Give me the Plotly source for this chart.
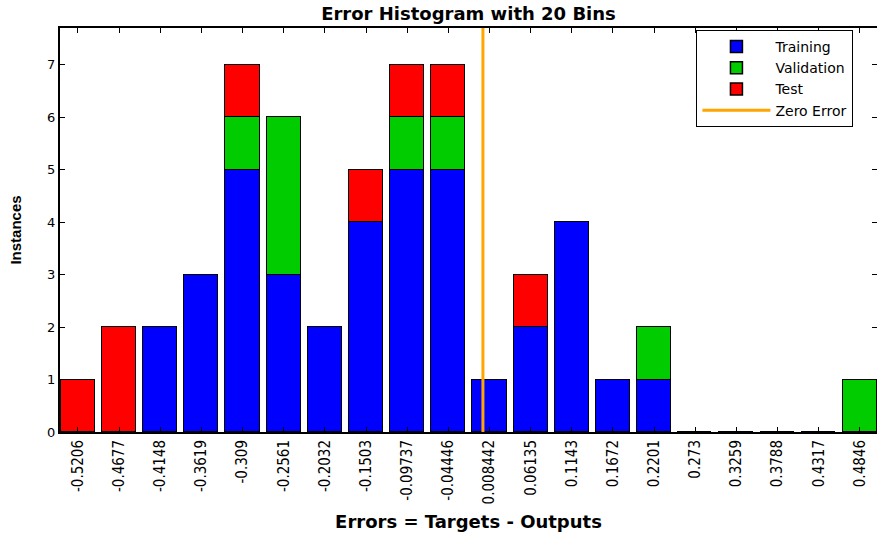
import plotly.graph_objects as go

bin_centers = [-0.5206, -0.4677, -0.4148, -0.3619, -0.309, -0.2561, -0.2032, -0.1503,
               -0.09737, -0.04446, 0.008442, 0.06135, 0.1143, 0.1672, 0.2201,
               0.273, 0.3259, 0.3788, 0.4317, 0.4846]
tick_labels = ["-0.5206", "-0.4677", "-0.4148", "-0.3619", "-0.309", "-0.2561", "-0.2032",
               "-0.1503", "-0.09737", "-0.04446", "0.008442", "0.06135", "0.1143", "0.1672",
               "0.2201", "0.273", "0.3259", "0.3788", "0.4317", "0.4846"]
training = [0, 0, 2, 3, 5, 3, 2, 4, 5, 5, 1, 2, 4, 1, 1, 0, 0, 0, 0, 0]
validation = [0, 0, 0, 0, 1, 3, 0, 0, 1, 1, 0, 0, 0, 0, 1, 0, 0, 0, 0, 1]
test = [1, 2, 0, 0, 1, 0, 0, 1, 1, 1, 0, 1, 0, 0, 0, 0, 0, 0, 0, 0]
zero_error_x = [0, 0]
zero_error_y = [0, 7.7]

bar_w = 0.0529 * 0.83
fig = go.Figure()
for name, vals, col in [("Training", training, "#0000FF"),
                        ("Validation", validation, "#00CC00"),
                        ("Test", test, "#FF0000")]:
    fig.add_trace(go.Bar(x=bin_centers, y=vals, name=name, width=bar_w,
                         marker=dict(color=col, line=dict(color="black", width=1.5))))
fig.add_trace(go.Scatter(x=zero_error_x, y=zero_error_y, mode="lines", name="Zero Error",
                         line=dict(color="#FFA500", width=3)))

wide = "DejaVu Sans, Verdana, sans-serif"
fig.update_layout(
    width=877, height=537, barmode="stack", bargap=0,
    paper_bgcolor="white", plot_bgcolor="white",
    margin=dict(l=60, r=0, t=28, b=105, autoexpand=False),
    font=dict(family="Liberation Sans, Arial, sans-serif", color="black"),
    title=dict(text="<b>Error Histogram with 20 Bins</b>", xref="paper", x=0.5,
               xanchor="center", y=0.974, yanchor="middle",
               font=dict(size=18, family=wide)),
    legend=dict(x=0.779, y=0.995, xanchor="left", yanchor="top", bgcolor="white",
                bordercolor="black", borderwidth=1, font=dict(size=14, family=wide),
                traceorder="normal", tracegroupgap=0, itemwidth=68),
    showlegend=True,
)
fig.update_xaxes(
    range=[-0.5437, 0.5066], tickmode="array", tickvals=bin_centers, ticktext=tick_labels,
    tickangle=-90, ticks="inside", ticklen=5, tickcolor="black", showgrid=False, zeroline=False,
    showline=True, linecolor="black", linewidth=2, mirror="ticks", automargin=False,
    tickfont=dict(family="DejaVu Sans Condensed, Liberation Sans Narrow, sans-serif", size=15),
    title=dict(text="<b>Errors = Targets - Outputs</b>", font=dict(size=18, family=wide),
               standoff=12),
)
fig.update_yaxes(
    range=[0, 7.7], tickmode="array", tickvals=[0, 1, 2, 3, 4, 5, 6, 7],
    ticks="inside", ticklen=5, tickcolor="black", showgrid=False, zeroline=False,
    showline=True, linecolor="black", linewidth=2, mirror="ticks", automargin=False,
    tickfont=dict(size=13, family=wide),
    title=dict(text="<b>Instances</b>", font=dict(size=15), standoff=22),
)
fig.write_html("out.html", config={"displayModeBar": False},
               post_script="document.body.style.margin='0px';")
